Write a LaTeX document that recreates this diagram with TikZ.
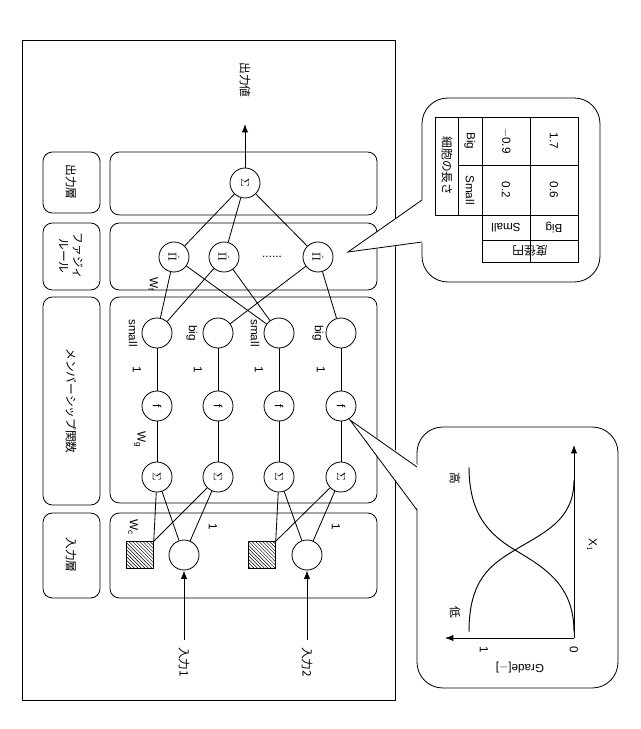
\documentclass[tikz,border=0pt]{standalone}
\usepackage{fontspec}
\setmainfont{Liberation Sans}
\newfontfamily\cjk{Noto Sans CJK JP}
\usetikzlibrary{arrows.meta, patterns}

\begin{document}
\begin{tikzpicture}[
  x=0.03cm, y=-0.03cm, line width=0.7pt,
  every node/.style={font=\cjk},
  neuron/.style={circle, draw, minimum size=0.9cm, inner sep=0pt, font=\rmfamily},
  weight/.style={draw, pattern=north west lines, minimum size=0.8cm, inner sep=0pt},
  layer/.style={draw, rounded corners=8pt},
  lbl/.style={rotate=-90, inner sep=1pt},
  num/.style={lbl, font=\rmfamily},
  conn/.style={draw, -},
  arr/.style={draw, -{Latex[length=2.5mm]}}
]
\useasboundingbox (0,0) rectangle (640,729);
% frame and layer boxes
\draw (22,40) rectangle (395,700);
\draw[layer] (43,152) rectangle (100,213);
\draw[layer] (43,223) rectangle (100,290);
\draw[layer] (43,297) rectangle (100,505);
\draw[layer] (43,513) rectangle (100,598);
\draw[layer] (110,152) rectangle (377,215);
\draw[layer] (110,223) rectangle (377,290);
\draw[layer] (110,297) rectangle (377,503);
\draw[layer] (110,513) rectangle (377,598);
\node[lbl] at (71,182) {出力層};
\node[lbl, align=center] at (71,256) {ファジィ\\ルール};
\node[lbl] at (71,401) {メンバーシップ関数};
\node[lbl] at (71,555) {入力層};

% output layer
\node[neuron] (out) at (245,183) {\rotatebox{-90}{$\Sigma$}};
\coordinate (outend) at (245,124);
\node[lbl] at (245,80) {出力値};
\draw[arr] (out) -- (outend);

% fuzzy rules
\node[neuron] (p1) at (174,257) {\rotatebox{-90}{$\hat{\Pi}$}};
\node[neuron] (p2) at (224,257) {\rotatebox{-90}{$\hat{\Pi}$}};
\node[neuron] (pn) at (318,257) {\rotatebox{-90}{$\hat{\Pi}$}};
\node[font=\rmfamily] at (272,257) {......};
\foreach \p in {p1,p2,pn} \draw[conn] (out) -- (\p);
\node[num] at (153,284) {W$_\mathrm{f}$};

% membership functions
\foreach \i/\x/\t/\lx in {1/157/small/133, 2/218/big/192, 3/279/small/255, 4/341/big/318} {
  \node[neuron] (m\i) at (\x,333) {};
  \node[neuron] (f\i) at (\x,406) {\rotatebox{-90}{f}};
  \node[neuron] (s\i) at (\x,477) {\rotatebox{-90}{$\Sigma$}};
  \node[num] at (\lx,333) {\t};
  \node[num] at (\x-20,370) {1};
  \draw[conn] (m\i) -- (f\i) -- (s\i);
}
\node[num] at (140,440) {W$_\mathrm{g}$};
\draw[conn] (p1) -- (m1);
\draw[conn] (p1) -- (m3);
\draw[conn] (p2) -- (m1);
\draw[conn] (p2) -- (m3);
\draw[conn] (pn) -- (m2);
\draw[conn] (pn) -- (m4);

% input layer
\foreach \i/\xs/\xc/\a/\b in {1/140/184/1/2, 2/262/307/3/4} {
  \node[weight] (w\i) at (\xs,555) {};
  \node[neuron] (in\i) at (\xc,555) {};
  \coordinate (src\i) at (\xc,640);
  \node[lbl] at (\xc,662) {入力\i};
  \draw[arr] (src\i) -- (in\i);
  \draw[conn] (w\i.north east) -- (s\a);
  \draw[conn] (w\i.north east) -- (s\b);
  \draw[conn] (in\i) -- (s\a);
  \draw[conn] (in\i) -- (s\b);
  \node[num] at (\xc+29,527) {1};
}
\node[num] at (133,527) {W$_\mathrm{c}$};

% callout with rule table
\draw[fill=white, rounded corners=22pt] (422,98) rectangle (600,282);
\coordinate (tip1) at (348,252);
\fill[white] (424,199) -- (tip1) -- (424,243) -- cycle;
\draw (422,200) -- (tip1) -- (422,242);
\draw (435,117) rectangle (578,215);
\draw (482,215) rectangle (578,262);
\draw (458,117) -- (458,215) (482,117) -- (482,215) (530,117) -- (530,262);
\draw (458,165) -- (578,165) (482,240) -- (578,240);
\node[lbl] at (447,166) {細胞の長さ};
\node[num] at (470,190) {Small};
\node[num] at (470,141) {Big};
\node[num] at (506,190) {0.2};
\node[num] at (506,141) {$-$0.9};
\node[num] at (554,190) {0.6};
\node[num] at (554,141) {1.7};
\node[rotate=180, font=\rmfamily, inner sep=1pt] at (506,228) {Small};
\node[rotate=180, font=\rmfamily, inner sep=1pt] at (554,228) {Big};
\node[rotate=180, inner sep=1pt] at (530,251) {度径円};

% callout with membership curves
\draw[fill=white, rounded corners=22pt] (417,427) rectangle (618,688);
\coordinate (tip2) at (350,420);
\fill[white] (419,466) -- (tip2) -- (419,511) -- cycle;
\draw (417,467) -- (tip2) -- (417,510);
\coordinate (org) at (574,638);
\coordinate (gend) at (445,638);
\coordinate (xend) at (574,445);
\draw[arr] (org) -- (gend);
\draw[arr] (org) -- (xend);
\draw[thick] (469,632) .. controls (469,580) and (490,565) .. (515,550)
  .. controls (545,532) and (574,520) .. (574,480);
\draw[thick] (469,467) .. controls (469,515) and (490,535) .. (515,550)
  .. controls (545,568) and (574,585) .. (574,632);
\node[num] at (484,650) {1};
\node[num] at (574,650) {0};
\node[rotate=180, font=\rmfamily] at (520,668) {Grade[$-$]};
\node[num] at (592,545) {X$_1$};
\node[lbl] at (455,612) {低};
\node[lbl] at (455,478) {高};
\end{tikzpicture}
\end{document}
